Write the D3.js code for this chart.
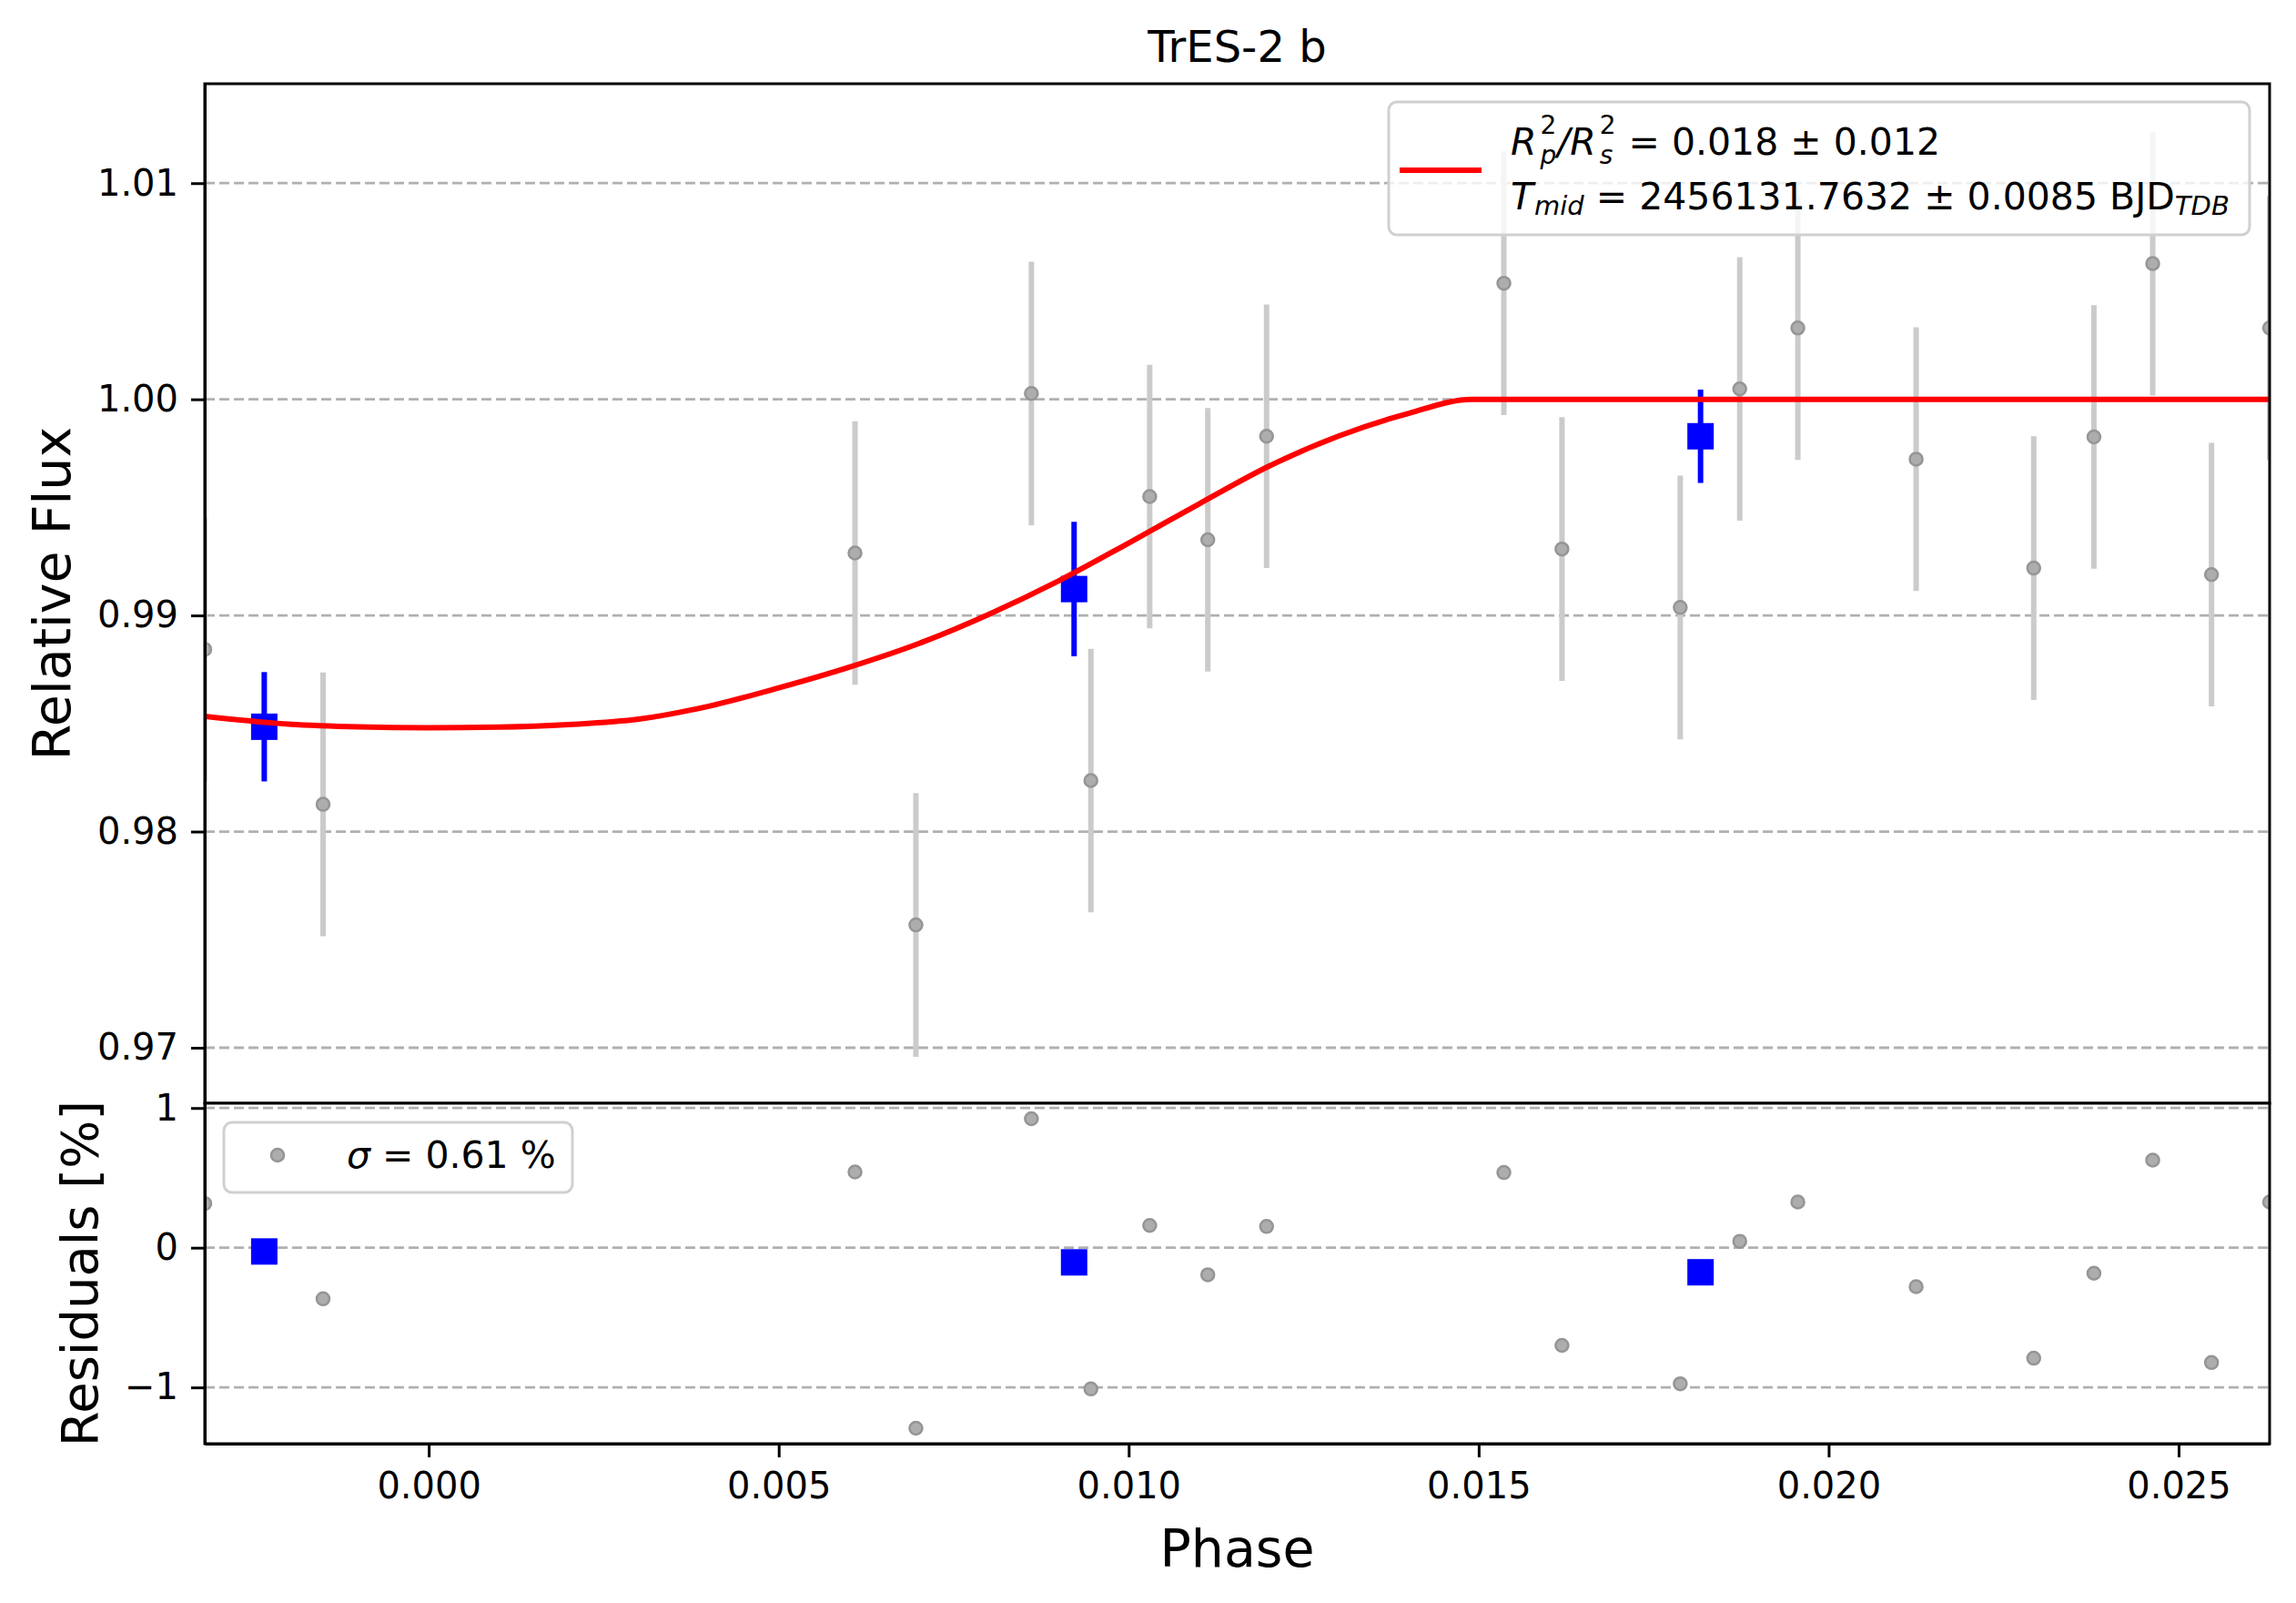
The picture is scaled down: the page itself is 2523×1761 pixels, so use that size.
<!DOCTYPE html>
<html><head><meta charset="utf-8">
<script src="https://cdn.jsdelivr.net/npm/d3@7"></script>
<style>body{margin:0;background:#fff}svg{display:block}text{font-family:"DejaVu Sans",sans-serif;white-space:pre}</style>
</head><body><svg id="c" width="2523" height="1761"></svg>
<script>
// ---- data ----
const phase = [-0.00320, -0.00151, 0.00609, 0.00696, 0.00861, 0.00946, 0.01030, 0.01113, 0.01197, 0.01536,
               0.01619, 0.01788, 0.01873, 0.01956, 0.02125, 0.02293, 0.02379, 0.02463, 0.02547, 0.02630];
const flux = [0.98843, 0.98126, 0.99289, 0.97568, 1.00027, 0.98236, 0.99550, 0.99350, 0.99829, 1.00537,
              0.99307, 0.99037, 1.00048, 1.00330, 0.99723, 0.99219, 0.99826, 1.00628, 0.99189, 1.00330];
const fluxErr = [0.0061, 0.0061, 0.0061, 0.0061, 0.0061, 0.0061, 0.0061, 0.0061, 0.0061, 0.0061,
                 0.0061, 0.0061, 0.0061, 0.0061, 0.0061, 0.0061, 0.0061, 0.0061, 0.0061, 0.0061];
const residuals = [0.316, -0.366, 0.542, -1.292, 0.923, -1.011, 0.159, -0.194, 0.152, 0.538,
                   -0.699, -0.974, 0.046, 0.327, -0.279, -0.791, -0.183, 0.627, -0.822, 0.327];
const binPhase = [-0.00235, 0.00922, 0.01817];
const binFlux = [0.98485, 0.99122, 0.99829];
const binErr = [0.00253, 0.00311, 0.00216];
const binRes = [-0.027, -0.105, -0.176];
const modelPhase = [-0.0032, -0.0020, -0.0010, 0.0000, 0.0010, 0.0020, 0.0030, 0.0040, 0.0050, 0.0060,
                    0.0070, 0.0080, 0.0090, 0.0100, 0.0110, 0.0120, 0.0130, 0.0140, 0.0149, 0.0263];
const modelFlux = [0.98533, 0.98497, 0.98484, 0.98480, 0.98483, 0.98495, 0.98520, 0.98580, 0.98665, 0.98760,
                   0.98870, 0.99005, 0.99160, 0.99335, 0.99515, 0.99690, 0.99830, 0.99935, 1.00000, 1.00000];
const xTicks = [0.000, 0.005, 0.010, 0.015, 0.020, 0.025];
const xTickLabels = ["0.000", "0.005", "0.010", "0.015", "0.020", "0.025"];
const fluxTicks = [0.97, 0.98, 0.99, 1.00, 1.01];
const fluxTickLabels = ["0.97", "0.98", "0.99", "1.00", "1.01"];
const resTicks = [-1, 0, 1];
const resTickLabels = ["\u22121", "0", "1"];
const titleText = "TrES-2 b";

// ---- layout ----
const W = 2523, H = 1761;
const L = 225, R = 2494, T1 = 92, B1 = 1212, T2 = 1212, B2 = 1586;
const svg = d3.select("#c");
svg.append("rect").attr("width", W).attr("height", H).attr("fill", "#fff");

const x = d3.scaleLinear().domain([-0.0032, 0.0263]).range([L, R]);
const y1 = d3.scaleLinear().domain([0.96743, 1.01460]).range([B1, T1]);
const y2 = d3.scaleLinear().domain([-1.403, 1.034]).range([B2, T2]);

const defs = svg.append("defs");
defs.append("clipPath").attr("id", "clipTop").append("rect").attr("x", L).attr("y", T1).attr("width", R - L).attr("height", B1 - T1);
defs.append("clipPath").attr("id", "clipRes").append("rect").attr("x", L).attr("y", T2).attr("width", R - L).attr("height", B2 - T2);

const GRID = "#b0b0b0", ERRC = "#cbcbcb", MFILL = "#adadad", MSTROKE = "#959595";

// ================= TOP PANEL =================
const topG = svg.append("g");
const topData = topG.append("g").attr("clip-path", "url(#clipTop)");
topData.selectAll("line.grid").data(fluxTicks).join("line")
  .attr("x1", L).attr("x2", R).attr("y1", d => y1(d)).attr("y2", d => y1(d))
  .attr("stroke", GRID).attr("stroke-width", 2.8).attr("stroke-dasharray", "11,5");
const pts = phase.map((p, i) => ({p, f: flux[i], e: fluxErr[i], r: residuals[i]}));
topData.selectAll("line.err").data(pts).join("line")
  .attr("x1", d => x(d.p)).attr("x2", d => x(d.p))
  .attr("y1", d => y1(d.f - d.e)).attr("y2", d => y1(d.f + d.e))
  .attr("stroke", ERRC).attr("stroke-width", 6);
topData.selectAll("circle.pt").data(pts).join("circle")
  .attr("cx", d => x(d.p)).attr("cy", d => y1(d.f)).attr("r", 7)
  .attr("fill", MFILL).attr("stroke", MSTROKE).attr("stroke-width", 2.5);
const bins = binPhase.map((p, i) => ({p, f: binFlux[i], e: binErr[i], r: binRes[i]}));
topData.selectAll("line.berr").data(bins).join("line")
  .attr("x1", d => x(d.p)).attr("x2", d => x(d.p))
  .attr("y1", d => y1(d.f - d.e)).attr("y2", d => y1(d.f + d.e))
  .attr("stroke", "#0000ff").attr("stroke-width", 6);
topData.selectAll("rect.bin").data(bins).join("rect")
  .attr("x", d => x(d.p) - 14.5).attr("y", d => y1(d.f) - 14.5)
  .attr("width", 29).attr("height", 29).attr("fill", "#0000ff");
const model = modelPhase.map((p, i) => [p, modelFlux[i]]);
topData.append("path").datum(model)
  .attr("d", d3.line().x(d => x(d[0])).y(d => y1(d[1])).curve(d3.curveMonotoneX))
  .attr("fill", "none").attr("stroke", "#ff0000").attr("stroke-width", 6);

topG.append("g").attr("transform", `translate(${L},0)`)
  .call(d3.axisLeft(y1).tickValues(fluxTicks).tickFormat((d, i) => fluxTickLabels[i]).tickSize(15).tickSizeOuter(0).tickPadding(14));
topG.append("rect").attr("x", L).attr("y", T1).attr("width", R - L).attr("height", B1 - T1)
  .attr("fill", "none").attr("stroke", "#000").attr("stroke-width", 3);

// legend (top)
const lg = topG.append("g");
lg.append("rect").attr("x", 1526).attr("y", 112).attr("width", 946).attr("height", 146).attr("rx", 9)
  .attr("fill", "#fff").attr("fill-opacity", 0.8).attr("stroke", "#d0d0d0").attr("stroke-width", 3);
lg.append("line").attr("x1", 1538).attr("x2", 1628).attr("y1", 187).attr("y2", 187)
  .attr("stroke", "#ff0000").attr("stroke-width", 6);

// one <text> per line; pieces are tspans placed explicitly
function richText(g, x0, y0, pieces) {
  const txt = g.append("text").attr("fill", "#000").attr("font-size", 41);
  let cx = x0;
  pieces.forEach(p => {
    if (p.stack) {
      let w = 0;
      p.stack.forEach(s => {
        const t = txt.append("tspan").attr("x", cx).attr("y", y0 + s.dy).attr("font-size", s.size)
          .attr("font-style", s.italic ? "italic" : "normal").text(s.t);
        w = Math.max(w, t.node().getComputedTextLength());
      });
      cx += w + (p.after || 0);
    } else {
      const t = txt.append("tspan").attr("x", cx).attr("y", y0 + (p.dy || 0)).attr("font-size", p.size || 41)
        .attr("font-style", p.italic ? "italic" : "normal").text(p.t);
      cx += t.node().getComputedTextLength() + (p.after || 0);
    }
  });
  return cx;
}
richText(lg, 1660, 170, [
  {t: "R", italic: true, after: 4},
  {stack: [{t: "2", size: 28, dy: -23}, {t: "p", size: 28, dy: 10, italic: true}], after: 1},
  {t: "/", italic: true},
  {t: "R", italic: true, after: 4},
  {stack: [{t: "2", size: 28, dy: -23}, {t: "s", size: 28, dy: 10, italic: true}], after: 1},
  {t: " = 0.018 \u00b1 0.012"}
]);
richText(lg, 1660, 230, [
  {t: "T", italic: true, after: 1},
  {t: "mid", italic: true, size: 29, dy: 6},
  {t: " = 2456131.7632 \u00b1 0.0085 BJD"},
  {t: "TDB", italic: true, size: 29, dy: 6}
]);

// ================= RESIDUAL PANEL =================
const resG = svg.append("g");
resG.append("rect").attr("x", L).attr("y", T2).attr("width", R - L).attr("height", B2 - T2).attr("fill", "#fff");
const resData = resG.append("g").attr("clip-path", "url(#clipRes)");
resData.selectAll("line.grid").data(resTicks).join("line")
  .attr("x1", L).attr("x2", R).attr("y1", d => y2(d)).attr("y2", d => y2(d))
  .attr("stroke", GRID).attr("stroke-width", 2.8).attr("stroke-dasharray", "11,5");
resData.selectAll("circle.pt").data(pts).join("circle")
  .attr("cx", d => x(d.p)).attr("cy", d => y2(d.r)).attr("r", 7)
  .attr("fill", MFILL).attr("stroke", MSTROKE).attr("stroke-width", 2.5);
resData.selectAll("rect.bin").data(bins).join("rect")
  .attr("x", d => x(d.p) - 14.5).attr("y", d => y2(d.r) - 14.5)
  .attr("width", 29).attr("height", 29).attr("fill", "#0000ff");

resG.append("g").attr("transform", `translate(${L},0)`)
  .call(d3.axisLeft(y2).tickValues(resTicks).tickFormat((d, i) => resTickLabels[i]).tickSize(15).tickSizeOuter(0).tickPadding(14));
resG.append("g").attr("transform", `translate(0,${B2})`)
  .call(d3.axisBottom(x).tickValues(xTicks).tickFormat((d, i) => xTickLabels[i]).tickSize(15).tickSizeOuter(0).tickPadding(17));
resG.append("rect").attr("x", L).attr("y", T2).attr("width", R - L).attr("height", B2 - T2)
  .attr("fill", "none").attr("stroke", "#000").attr("stroke-width", 3);

// legend (residuals)
const lg2 = resG.append("g");
lg2.append("rect").attr("x", 246).attr("y", 1233).attr("width", 383).attr("height", 77).attr("rx", 9)
  .attr("fill", "#fff").attr("fill-opacity", 0.8).attr("stroke", "#d0d0d0").attr("stroke-width", 3);
lg2.append("circle").attr("cx", 305).attr("cy", 1269).attr("r", 7)
  .attr("fill", MFILL).attr("stroke", MSTROKE).attr("stroke-width", 2.5);
richText(lg2, 381, 1283, [{t: "\u03c3", italic: true}, {t: " = 0.61 %"}]);

// axis styling
svg.selectAll(".tick text").attr("font-size", 40).attr("font-family", "DejaVu Sans").attr("fill", "#000");
svg.selectAll(".tick line").attr("stroke", "#000").attr("stroke-width", 3);
svg.selectAll(".domain").attr("stroke", "#000").attr("stroke-width", 3);

// labels
svg.append("text").attr("x", (L + R) / 2).attr("y", 68).attr("text-anchor", "middle")
  .attr("font-size", 48).attr("fill", "#000").text(titleText);
svg.append("text").attr("x", (L + R) / 2).attr("y", 1721).attr("text-anchor", "middle")
  .attr("font-size", 57).attr("fill", "#000").text("Phase");
svg.append("text").attr("transform", `translate(77,${(T1 + B1) / 2}) rotate(-90)`).attr("text-anchor", "middle")
  .attr("font-size", 57).attr("fill", "#000").text("Relative Flux");
svg.append("text").attr("transform", `translate(107,${(T2 + B2) / 2}) rotate(-90)`).attr("text-anchor", "middle")
  .attr("font-size", 56).attr("fill", "#000").text("Residuals [%]");
</script>
</body></html>
